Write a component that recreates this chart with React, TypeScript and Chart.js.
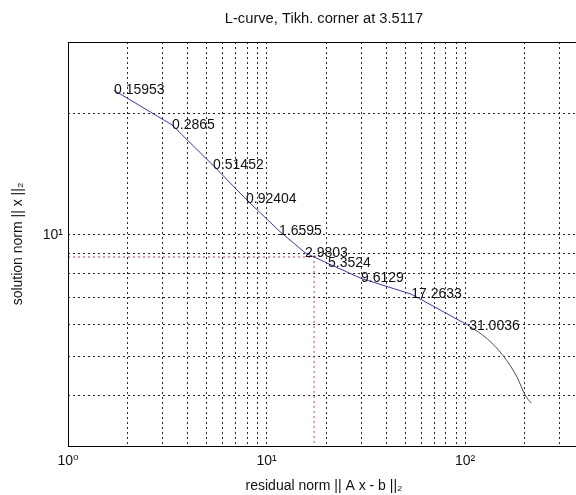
import React, { useEffect, useRef } from 'react';
import { Chart, registerables } from 'chart.js';

Chart.register(...registerables);

// Regularisation parameters written next to the marked points of the L-curve
const lambdaLabels = ['0.15953', '0.2865', '0.51452', '0.92404', '1.6595', '2.9803', '5.3524', '9.6129', '17.2633', '31.0036'];
// residual norm || A x - b ||_2 at the marked points
const rhoMarked = [1.705, 3.34, 5.38, 7.88, 11.56, 15.63, 20.41, 29.93, 53.5, 104.8];
// solution norm || x ||_2 at the marked points
const etaMarked = [22.79, 18.71, 14.85, 12.25, 10.23, 9.03, 8.49, 7.8, 7.13, 5.95];
// tail of the curve beyond the last marked point
const rhoTail = [104.8, 129.1, 155.4, 182.8, 200.5, 215.1];
const etaTail = [5.95, 5.53, 5.02, 4.44, 4.01, 3.83];
// corner of the L-curve
const cornerLambda = '3.5117';
const rhoCorner = 17.35;
const etaCorner = 8.81;

const xTicks = [1, 2, 3, 4, 5, 6, 7, 8, 9, 10, 20, 30, 40, 50, 60, 70, 80, 90, 100, 200, 300];
const yTicks = [3, 4, 5, 6, 7, 8, 9, 10, 20, 30];
const xTickLabels: Record<number, string> = { 1: '10\u2070', 10: '10\u00B9', 100: '10\u00B2' };
const yTickLabels: Record<number, string> = { 10: '10\u00B9' };
const xMin = 1;
const xMax = 379;
const yMin = 3;
const yMax = 30;

const FONT = "'Liberation Sans', Arial, Helvetica, 'DejaVu Sans', sans-serif";

const labelPlugin = {
  id: 'lambdaLabels',
  afterDatasetsDraw(chart: any) {
    const { ctx, scales } = chart;
    ctx.save();
    ctx.font = `14px ${FONT}`;
    ctx.fillStyle = '#111';
    ctx.textAlign = 'left';
    ctx.textBaseline = 'middle';
    lambdaLabels.forEach((t, i) => {
      const px = scales.x.getPixelForValue(rhoMarked[i]);
      const py = scales.y.getPixelForValue(etaMarked[i]);
      ctx.fillText(t, px, py);
    });
    ctx.restore();
  },
};

// axes box: left, top and bottom edges (the right edge lies outside the cropped view)
const boxPlugin = {
  id: 'axesBox',
  afterDraw(chart: any) {
    const { ctx, chartArea } = chart;
    const l = Math.round(chartArea.left) + 0.5;
    const t = Math.round(chartArea.top) + 0.5;
    const b = Math.round(chartArea.bottom) + 0.5;
    const r = Math.round(chartArea.right) + 0.5;
    ctx.save();
    ctx.strokeStyle = '#000';
    ctx.lineWidth = 1;
    ctx.setLineDash([]);
    ctx.beginPath();
    ctx.moveTo(r, t);
    ctx.lineTo(l, t);
    ctx.lineTo(l, b);
    ctx.lineTo(r, b);
    ctx.stroke();
    ctx.restore();
  },
};

export default function App() {
  const ref = useRef<HTMLCanvasElement | null>(null);

  useEffect(() => {
    if (!ref.current) return;
    const blue = rhoMarked.map((x, i) => ({ x, y: etaMarked[i] }));
    const tail = rhoTail.map((x, i) => ({ x, y: etaTail[i] }));
    const corner = [
      { x: xMin, y: etaCorner },
      { x: rhoCorner, y: etaCorner },
      { x: rhoCorner, y: yMin },
    ];
    const gridDash = [2, 3];
    const chart = new Chart(ref.current, {
      type: 'line',
      data: {
        datasets: [
          {
            label: 'corner',
            data: corner,
            borderColor: '#e8343c',
            borderWidth: 1,
            borderDash: [2, 3],
            pointRadius: 0,
            tension: 0,
          },
          {
            label: 'tail',
            data: tail,
            borderColor: '#4b4b55',
            borderWidth: 1,
            pointRadius: 0,
            tension: 0.3,
            cubicInterpolationMode: 'monotone',
          },
          {
            label: 'L-curve',
            data: blue,
            borderColor: '#3434d8',
            borderWidth: 1,
            pointRadius: 0,
            tension: 0,
          },
        ],
      },
      options: {
        animation: false,
        responsive: false,
        devicePixelRatio: 1,
        parsing: false,
        layout: { padding: { left: 0, right: 22, top: 0, bottom: 0 } },
        plugins: {
          legend: { display: false },
          tooltip: { enabled: false },
          title: {
            display: true,
            text: `L-curve, Tikh. corner at ${cornerLambda}`,
            fullSize: false,
            color: '#111',
            font: { family: FONT, size: 14.7, weight: 'normal' },
            padding: { top: 10, bottom: 14.4 },
          },
        },
        scales: {
          x: {
            type: 'logarithmic',
            min: xMin,
            max: xMax,
            afterBuildTicks: (s: any) => {
              s.ticks = xTicks.map((v) => ({ value: v }));
            },
            afterFit: (s: any) => {
              s.height = 49;
            },
            ticks: {
              autoSkip: false,
              maxRotation: 0,
              minRotation: 0,
              padding: 7,
              color: '#111',
              font: { family: FONT, size: 14 },
              callback: (v: any) => xTickLabels[Number(v)] ?? '',
            },
            grid: { color: 'rgba(0,0,0,0.85)', lineWidth: 1, drawTicks: false },
            border: { display: false, dash: gridDash },
            title: {
              display: true,
              text: 'residual norm || A x - b ||\u2082',
              color: '#111',
              font: { family: FONT, size: 14 },
              padding: { top: 0, bottom: 0 },
            },
          },
          y: {
            type: 'logarithmic',
            min: yMin,
            max: yMax,
            afterBuildTicks: (s: any) => {
              s.ticks = yTicks.map((v) => ({ value: v }));
            },
            afterFit: (s: any) => {
              s.width = 68;
            },
            ticks: {
              autoSkip: false,
              padding: 5,
              color: '#111',
              font: { family: FONT, size: 14 },
              callback: (v: any) => yTickLabels[Number(v)] ?? '',
            },
            grid: { color: 'rgba(0,0,0,0.85)', lineWidth: 1, drawTicks: false },
            border: { display: false, dash: gridDash },
            title: {
              display: true,
              text: 'solution norm || x ||\u2082',
              color: '#111',
              font: { family: FONT, size: 14 },
              padding: { top: 10, bottom: 0 },
            },
          },
        },
      },
      plugins: [labelPlugin, boxPlugin],
    } as any);
    return () => chart.destroy();
  }, []);

  return (
    <div
      style={{
        position: 'fixed',
        left: 0,
        top: 0,
        width: 576,
        height: 495,
        overflow: 'hidden',
        background: '#fff',
      }}
    >
      <canvas ref={ref} width={602} height={495} style={{ display: 'block', width: 602, height: 495 }} />
    </div>
  );
}
